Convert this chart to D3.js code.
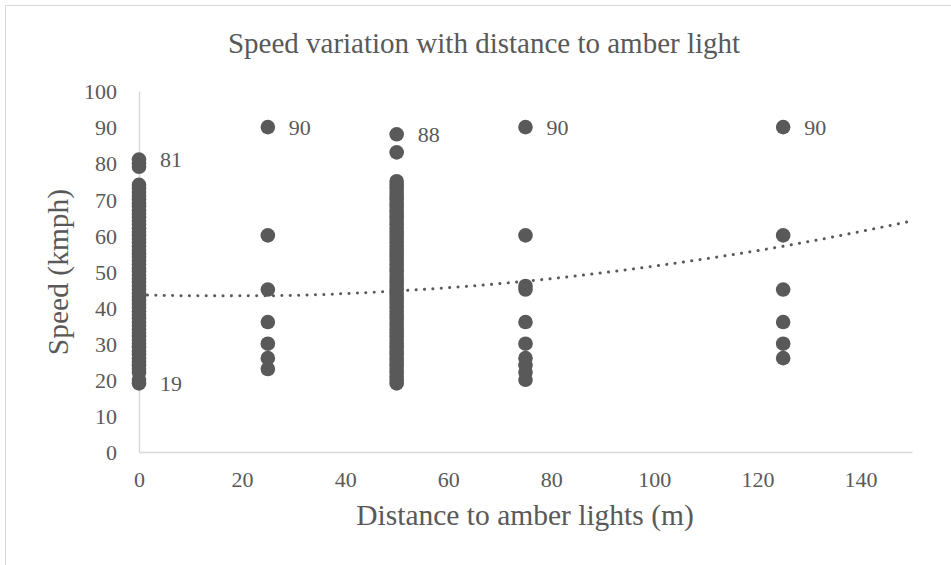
<!DOCTYPE html>
<html lang="en">
<head>
<meta charset="UTF-8">
<title>Speed variation with distance to amber light</title>
<style>
  body { margin: 0; background: #fff; }
  svg text { font-family: "Liberation Serif", "Times New Roman", serif !important; fill: #595959; }
</style>
</head>
<body>
<div class="chart"></div>
<script src="https://d3js.org/d3.v7.min.js"></script>
<script>
    var w = 951, h = 565;

    // speeds observed at each distance (m)
    var dist0 = [19, 20, 22, 23, 24, 25, 26, 27, 28, 29, 30, 31, 32, 33, 34, 35, 36, 37, 38, 39, 40,
        41, 42, 43, 44, 45, 46, 47, 48, 49, 50, 51, 52, 53, 54, 55, 56, 57, 58, 59, 60,
        61, 62, 63, 64, 65, 66, 67, 68, 69, 70, 71, 72, 73, 74, 79, 80, 81];
    var dist25 = [90, 60, 45, 36, 30, 26, 23];
    var dist50 = [88, 83, 75, 74, 73, 72, 71, 70, 69, 68, 67, 66, 65, 64, 63, 62, 61, 60,
        59, 58, 57, 56, 55, 54, 53, 52, 51, 50, 49, 48, 47, 46, 45, 44, 43, 42, 41, 40,
        39, 38, 37, 36, 35, 34, 33, 32, 31, 30, 29, 28, 27, 26, 25, 24, 23, 22, 21, 20, 19];
    var dist75 = [90, 60, 46, 45, 36, 30, 26, 24, 22, 20];
    var dist125 = [90, 60, 45, 36, 30, 26];

    var distances = [0, 25, 50, 75, 125];
    var speedSets = [dist0, dist25, dist50, dist75, dist125];

    // labelled points [distance, speed]
    var labelled = [[0, 81], [0, 19], [25, 90], [50, 88], [75, 90], [125, 90]];

    // polynomial trendline
    var trendX = [0, 15, 25, 50, 75, 100, 125, 150];
    var trendY = [43.5, 43.25, 43.3, 44.6, 47.3, 51.5, 57.0, 64.0];

    var xTicks = [0, 20, 40, 60, 80, 100, 120, 140];
    var yTicks = [0, 10, 20, 30, 40, 50, 60, 70, 80, 90, 100];

    var svg = d3.select(".chart").append("svg")
        .attr("width", w)
        .attr("height", h);

    svg.append("rect")
        .attr("x", 5.5).attr("y", 5.5)
        .attr("width", 1000).attr("height", 1000)
        .attr("fill", "#fff")
        .attr("stroke", "#d9d9d9");

    var x = d3.scaleLinear().domain([0, 150]).range([139, 912]);
    var y = d3.scaleLinear().domain([0, 100]).range([452, 91]);

    // axes
    var xAxis = svg.append("g")
        .attr("transform", "translate(0," + y(0) + ")")
        .call(d3.axisBottom(x).tickValues(xTicks).tickSize(0).tickPadding(19));
    var yAxis = svg.append("g")
        .attr("transform", "translate(" + x(0) + ",0)")
        .call(d3.axisLeft(y).tickValues(yTicks).tickSize(0).tickPadding(22));
    [xAxis, yAxis].forEach(function(g) {
        g.attr("font-family", null).attr("font-size", null);
        g.select(".domain").attr("stroke", "#d9d9d9").attr("stroke-width", 1.5);
        g.selectAll("text").style("font-size", "22px").style("fill", "#595959");
    });
    yAxis.selectAll("text").attr("dy", "0.35em");

    // points
    var points = [];
    distances.forEach(function(d, i) {
        speedSets[i].forEach(function(s) { points.push([d, s]); });
    });
    svg.append("g").selectAll("circle")
        .data(points)
        .enter()
        .append("circle")
        .attr("cx", function(d) { return x(d[0]); })
        .attr("cy", function(d) { return y(d[1]); })
        .attr("r", 7.3)
        .attr("fill", "#595959");

    // trendline
    var line = d3.line()
        .x(function(d) { return x(d[0]); })
        .y(function(d) { return y(d[1]); })
        .curve(d3.curveMonotoneX);
    svg.append("path")
        .datum(trendX.map(function(v, i) { return [v, trendY[i]]; }))
        .attr("d", line)
        .attr("fill", "none")
        .attr("stroke", "#595959")
        .attr("stroke-width", 3)
        .attr("stroke-linecap", "round")
        .attr("stroke-dasharray", "0.1 8.3");

    // data labels
    svg.append("g").selectAll("text")
        .data(labelled)
        .enter()
        .append("text")
        .attr("x", function(d) { return x(d[0]) + 21; })
        .attr("y", function(d) { return y(d[1]); })
        .attr("dy", "0.35em")
        .style("font-size", "22px")
        .text(function(d) { return d[1]; });

    // titles
    svg.append("text")
        .attr("x", 484).attr("y", 53)
        .attr("text-anchor", "middle")
        .style("font-size", "29px")
        .text("Speed variation with distance to amber light");

    svg.append("text")
        .attr("x", 525).attr("y", 525)
        .attr("text-anchor", "middle")
        .style("font-size", "29.5px")
        .text("Distance to amber lights (m)");

    svg.append("text")
        .attr("transform", "translate(68,272) rotate(-90)")
        .attr("text-anchor", "middle")
        .style("font-size", "29.5px")
        .text("Speed (kmph)");
</script>
</body>
</html>
